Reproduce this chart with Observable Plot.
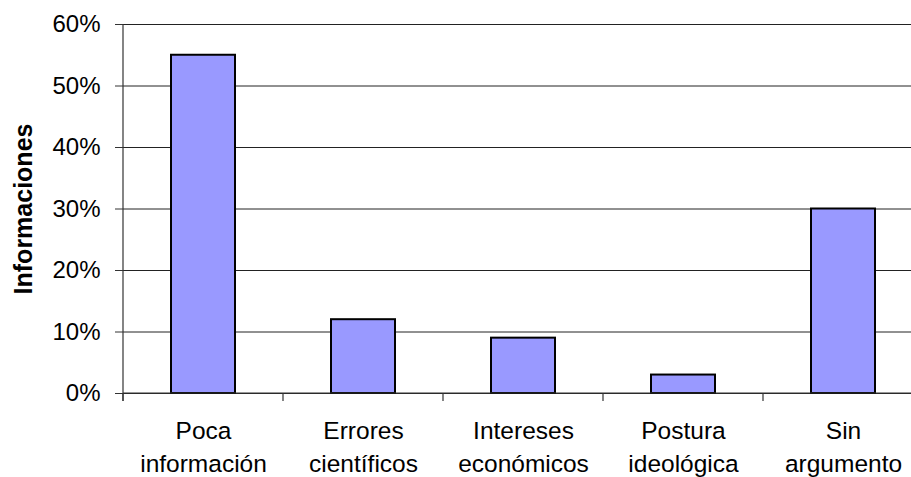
<!DOCTYPE html>
<html>
<head>
<meta charset="utf-8">
<script src="https://cdn.jsdelivr.net/npm/d3@7"></script>
<script src="https://cdn.jsdelivr.net/npm/@observablehq/plot@0.6"></script>
<style>
  html, body { margin: 0; padding: 0; background: #fff; }
  svg { display: block; }
</style>
</head>
<body>
<div id="chart"></div>
<script>
const categories = ["Poca información", "Errores científicos", "Intereses económicos", "Postura ideológica", "Sin argumento"];
const tickLabels = ["Poca\ninformación", "Errores\ncientíficos", "Intereses\neconómicos", "Postura\nideológica", "Sin\nargumento"];
const values = [0.55, 0.12, 0.09, 0.03, 0.30];
const yTicks = [0, 0.1, 0.2, 0.3, 0.4, 0.5, 0.6];
const yLabel = "Informaciones";

const data = categories.map((c, i) => ({category: c, value: values[i], label: tickLabels[i]}));
const font = "'Liberation Sans', Arial, Helvetica, sans-serif";

function axisDecor(index, scales) {
  const x = scales.x, y = scales.y;
  const step = x.step(), bw = x.bandwidth();
  const y0 = y(0), yTop = y(0.6);
  const g = d3.create("svg:g").attr("stroke", "#333").attr("stroke-width", 1.2).attr("fill", "none");
  const edges = categories.map(c => x(c) + bw / 2 - step / 2);
  edges.push(edges[edges.length - 1] + step);
  g.append("line").attr("x1", edges[0]).attr("x2", edges[0]).attr("y1", yTop).attr("y2", y0 + 8);
  g.append("line").attr("x1", edges[0]).attr("x2", edges[edges.length - 1]).attr("y1", y0).attr("y2", y0);
  for (const e of edges) {
    g.append("line").attr("x1", e).attr("x2", e).attr("y1", y0).attr("y2", y0 + 8);
  }
  return g.node();
}

const chart = Plot.plot({
  width: 911,
  height: 477,
  marginLeft: 123,
  marginRight: 0,
  marginTop: 24,
  marginBottom: 84,
  style: {fontFamily: font, background: "#fff", color: "#000"},
  x: {domain: categories, range: [123, 923], paddingInner: 0.6, paddingOuter: 0.3, axis: null},
  y: {domain: [0, 0.6], axis: null},
  marks: [
    Plot.gridY(yTicks, {stroke: "#222", strokeOpacity: 1, strokeWidth: 1}),
    Plot.axisY(yTicks, {
      tickSize: 8, tickPadding: 15, tickFormat: d3.format(".0%"),
      fontSize: 24, stroke: "#333", label: null
    }),
    Plot.barY(data, {x: "category", y: "value", fill: "#9999FF", stroke: "#000", strokeWidth: 2}),
    axisDecor,
    Plot.text(data, {
      x: "category", y: 0, text: "label", dy: 21, lineAnchor: "top",
      lineHeight: 1.38, fontSize: 24.5, fill: "#000"
    }),
    Plot.text([yLabel], {
      frameAnchor: "left", dx: -100, rotate: -90, fontSize: 25, fontWeight: "bold",
      fill: "#000", textAnchor: "middle"
    })
  ]
});
document.getElementById("chart").appendChild(chart);
</script>
</body>
</html>
